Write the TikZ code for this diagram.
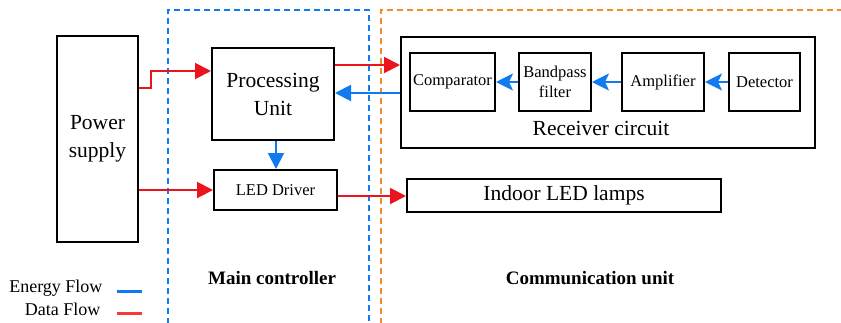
\documentclass[tikz,border=0pt]{standalone}
\usepackage{fontspec}
\setmainfont{Liberation Serif}
\usetikzlibrary{arrows.meta}
\definecolor{dred}{RGB}{236,20,28}
\definecolor{dblue}{RGB}{16,122,240}
\definecolor{dorange}{RGB}{244,140,40}
\definecolor{lred}{RGB}{250,56,56}
\begin{document}
\begin{tikzpicture}[x=1pt,y=-1pt,
  blk/.style={draw=black,line width=2pt,inner sep=0pt,align=center},
  dataflow/.style={draw=dred,line width=2pt,-{Triangle[length=16pt,width=16pt]}},
  energy/.style={draw=dblue,line width=2pt,-{Triangle[length=16pt,width=16pt]}},
  energys/.style={draw=dblue,line width=2pt,-{Stealth[length=17pt,width=17pt,inset=4pt]}},
  region/.style={line width=1.6pt,dash pattern=on 6pt off 4pt}]
\useasboundingbox (0,0) rectangle (841,322);
% regions
\draw[region,draw=dblue] (168,324) -- (168,10) -- (369,10) -- (369,324);
\draw[region,draw=dorange] (381,324) -- (381,10) -- (845,10);
% blocks
\node[blk,minimum width=81pt,minimum height=206pt,font=\fontsize{21.5}{28.5}\selectfont] (ps) at (97.5,139) {Power\\supply};
\node[blk,minimum width=122pt,minimum height=92pt,font=\fontsize{21.5}{28}\selectfont] (pu) at (273,94) {Processing\\Unit};
\node[blk,minimum width=123pt,minimum height=40pt,font=\fontsize{16.5}{20}\selectfont] (led) at (275.5,190) {LED Driver};
\node[blk,minimum width=414pt,minimum height=111pt] (rc) at (608,92.5) {};
\node[font=\fontsize{21.5}{25}\selectfont] (rcl) at (601,128) {Receiver circuit};
\node[blk,minimum width=85pt,minimum height=58pt,font=\fontsize{16.5}{20}\selectfont] (cmp) at (452.5,82) {Comparator};
\node[blk,minimum width=72pt,minimum height=58pt,font=\fontsize{16.5}{20}\selectfont] (bpf) at (555,82) {Bandpass\\filter};
\node[blk,minimum width=82pt,minimum height=58pt,font=\fontsize{16.5}{20}\selectfont] (amp) at (663,82) {Amplifier};
\node[blk,minimum width=71pt,minimum height=58pt,font=\fontsize{16.5}{20}\selectfont] (det) at (764.5,82) {Detector};
\node[blk,minimum width=314pt,minimum height=33pt,font=\fontsize{21.5}{25}\selectfont] (lamps) at (564,195.5) {Indoor LED lamps};
% labels
\node[font=\fontsize{19}{22}\selectfont\bfseries] (mc) at (272,278) {Main controller};
\node[font=\fontsize{19}{22}\selectfont\bfseries] (cu) at (590,278) {Communication unit};
\node[font=\fontsize{18}{21}\selectfont,anchor=east] (ef) at (106,288) {Energy Flow};
\node[font=\fontsize{18}{21}\selectfont,anchor=east] (df) at (104,309) {Data Flow};
\coordinate (efa) at (117,291); \coordinate (efb) at (142,291);
\coordinate (dfa) at (117,313); \coordinate (dfb) at (142,313);
\draw[dblue,line width=3pt] (efa) -- (efb);
\draw[lred,line width=3pt] (dfa) -- (dfb);
% connectors
\coordinate (k1) at (151,88); \coordinate (k2) at (151,71);
\draw[dataflow] (ps.east |- k1) -- (k1) -- (k2) -- (pu.west |- k2);
\draw[dataflow] (ps.east |- led.west) -- (led.west);
\draw[energy] (pu.south -| 276,0) -- (led.north -| 276,0);
\draw[dataflow] (pu.east |- 0,65) -- (rc.west |- 0,65);
\draw[energy] (rc.west |- 0,93) -- (pu.east |- 0,93);
\draw[dataflow] (led.east |- 0,196) -- (lamps.west |- 0,196);
\draw[energys] (bpf) -- (cmp);
\draw[energys] (amp) -- (bpf);
\draw[energys] (det) -- (amp);
\end{tikzpicture}
\end{document}
